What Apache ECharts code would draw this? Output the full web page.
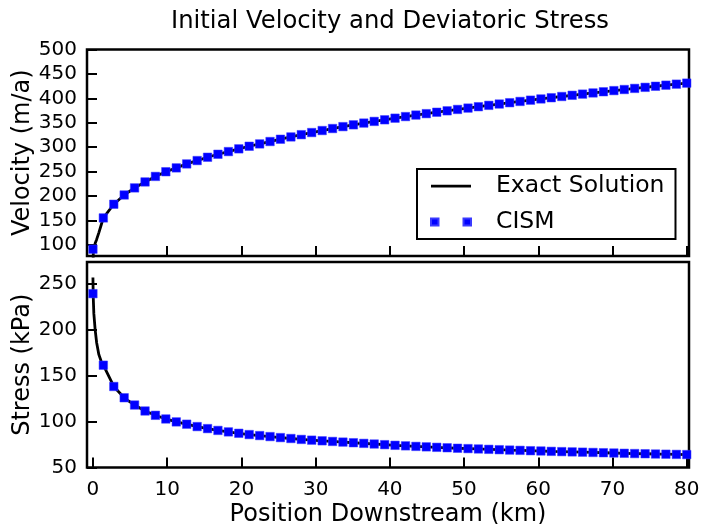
<!DOCTYPE html>
<html>
<head>
<meta charset="utf-8">
<script src="https://cdn.jsdelivr.net/npm/echarts@6/dist/echarts.min.js"></script>
<style>
  html, body { margin: 0; padding: 0; background: #fff; }
  #chart { width: 701px; height: 524px; }
</style>
</head>
<body>
<div id="chart"></div>
<script>
// CISM grid points (km downstream)
const positionKm = [0, 1.40, 2.81, 4.21, 5.61, 7.02, 8.42, 9.82, 11.23, 12.63,
    14.04, 15.44, 16.84, 18.25, 19.65, 21.05, 22.46, 23.86, 25.26, 26.67,
    28.07, 29.47, 30.88, 32.28, 33.68, 35.09, 36.49, 37.89, 39.30, 40.70,
    42.11, 43.51, 44.91, 46.32, 47.72, 49.12, 50.53, 51.93, 53.33, 54.74,
    56.14, 57.54, 58.95, 60.35, 61.75, 63.16, 64.56, 65.96, 67.37, 68.77,
    70.18, 71.58, 72.98, 74.39, 75.79, 77.19, 78.60, 80.00];
const cismVelocity = [91, 155, 183, 202, 216.5, 228.7, 240, 249.6, 257.5, 265.6,
    272.5, 279.3, 285.4, 290.9, 296.5, 301.8, 306.6, 311.5, 316.2, 320.9,
    325.5, 329.9, 334, 338.1, 342, 345.7, 349.3, 352.7, 356, 359.3,
    362.6, 365.7, 368.6, 371.5, 374.4, 377.2, 380, 382.8, 385.6, 388.3,
    391, 393.6, 396.2, 398.7, 401.2, 403.7, 406.2, 408.6, 411, 413.4,
    415.8, 418, 420.3, 422.5, 424.7, 426.9, 429, 431.1];
const cismStress = [239.5, 161.5, 138.3, 126.0, 118.1, 111.6, 106.9, 102.9, 99.7, 97.2,
    94.6, 92.4, 90.4, 88.8, 87.3, 85.9, 84.8, 83.7, 82.6, 81.6,
    80.6, 79.8, 79.1, 78.4, 77.7, 77.0, 76.3, 75.6, 74.9, 74.2,
    73.6, 73.0, 72.5, 72.0, 71.5, 71.0, 70.6, 70.2, 69.8, 69.4,
    69.0, 68.7, 68.3, 68.0, 67.6, 67.3, 67.0, 66.7, 66.4, 66.1,
    65.8, 65.5, 65.2, 65.0, 64.7, 64.5, 64.3, 64.1];

// exact solution near the inflow, where it bends sharply
const exactNearX = [0, 0.04, 0.12, 0.3, 0.5, 0.8, 1.1];
const exactNearVelocity = [45, 80, 93, 103, 111, 125, 140];
const exactNearStress = [257, 236, 218, 200, 186, 173, 166];

const xTicks = [0, 10, 20, 30, 40, 50, 60, 70, 80];
const velocityTicks = [100, 150, 200, 250, 300, 350, 400, 450, 500];
const stressTicks = [50, 100, 150, 200, 250];

const FONT = 'DejaVu Sans';

function pairs(xs, ys) {
    return xs.map((x, i) => [x, ys[i]]);
}

const exactX = exactNearX.concat(positionKm.slice(1));
const exactVelocity = exactNearVelocity.concat(cismVelocity.slice(1));
const exactStress = exactNearStress.concat(cismStress.slice(1));

const tickStyle = { show: true, inside: true, length: 10, lineStyle: { color: '#000', width: 2 } };

function makeXAxis(gridIndex, withLabels) {
    return {
        type: 'value',
        gridIndex: gridIndex,
        min: -0.8,
        max: 80.3,
        axisLine: { show: false, onZero: false },
        splitLine: { show: false },
        axisTick: Object.assign({ customValues: xTicks }, tickStyle),
        axisLabel: {
            show: withLabels,
            customValues: xTicks,
            margin: 12,
            color: '#000',
            fontFamily: FONT,
            fontSize: 20
        },
        name: withLabels ? 'Position Downstream (km)' : '',
        nameLocation: 'middle',
        nameGap: 35,
        nameMoveOverlap: false,
        nameTextStyle: { color: '#000', fontFamily: FONT, fontSize: 24 }
    };
}

function makeYAxis(gridIndex, name, min, max, ticks) {
    return {
        type: 'value',
        gridIndex: gridIndex,
        min: min,
        max: max,
        axisLine: { show: false, onZero: false },
        splitLine: { show: false },
        axisTick: Object.assign({ customValues: ticks }, tickStyle),
        axisLabel: {
            customValues: ticks,
            margin: 10,
            color: '#000',
            fontFamily: FONT,
            fontSize: 20
        },
        name: name,
        nameLocation: 'middle',
        nameGap: 52,
        nameMoveOverlap: false,
        nameTextStyle: { color: '#000', fontFamily: FONT, fontSize: 24 }
    };
}

const chart = echarts.init(document.getElementById('chart'));

chart.setOption({
    animation: false,
    backgroundColor: '#fff',
    title: {
        text: 'Initial Velocity and Deviatoric Stress',
        left: 166,
        top: 5,
        textStyle: { color: '#000', fontFamily: FONT, fontSize: 24.3, fontWeight: 'normal' }
    },
    legend: {
        left: 417,
        top: 169,
        orient: 'vertical',
        borderColor: '#000',
        borderWidth: 2,
        padding: [5, 11, 5, 13],
        itemGap: 12,
        itemWidth: 40,
        itemHeight: 7,
        textStyle: { color: '#000', fontFamily: FONT, fontSize: 23.5, lineHeight: 24, padding: [0, 0, 0, 20] },
        data: [
            { name: 'Exact Solution', icon: 'path://M0,2.2h40v2.8h-40z M0,0h0.01v0.01h-0.01z M0,7h0.01v-0.01h-0.01z', itemStyle: { color: '#000' } },
            { name: 'CISM', icon: 'path://M0,0h7.5v7h-7.5z M32.5,0h7.5v7h-7.5z' }
        ]
    },
    grid: [
        { left: 87, right: 12, top: 49.5, height: 206.5, outerBoundsMode: 'none', show: true, borderColor: '#000', borderWidth: 2.5 },
        { left: 87, right: 12, top: 262, bottom: 56.5, outerBoundsMode: 'none', show: true, borderColor: '#000', borderWidth: 2.5 }
    ],
    xAxis: [makeXAxis(0, false), makeXAxis(1, true)],
    yAxis: [
        makeYAxis(0, 'Velocity (m/a)', 77, 500, velocityTicks),
        makeYAxis(1, 'Stress (kPa)', 50, 274, stressTicks)
    ],
    series: [
        {
            name: 'Exact Solution',
            type: 'line',
            xAxisIndex: 0,
            yAxisIndex: 0,
            data: pairs(exactX, exactVelocity),
            symbol: 'none',
            clip: true,
            lineStyle: { color: '#000', width: 2.8 },
            itemStyle: { color: '#000' },
            z: 2
        },
        {
            name: 'Exact Solution',
            type: 'line',
            xAxisIndex: 1,
            yAxisIndex: 1,
            data: pairs(exactX, exactStress),
            symbol: 'none',
            clip: true,
            lineStyle: { color: '#000', width: 2.8 },
            itemStyle: { color: '#000' },
            z: 2
        },
        {
            name: 'CISM',
            type: 'scatter',
            xAxisIndex: 0,
            yAxisIndex: 0,
            data: pairs(positionKm, cismVelocity),
            symbol: 'rect',
            symbolSize: 8.5,
            itemStyle: { color: '#0000ff', borderColor: '#3a3aff', borderWidth: 0.5, opacity: 1 },
            z: 3
        },
        {
            name: 'CISM',
            type: 'scatter',
            xAxisIndex: 1,
            yAxisIndex: 1,
            data: pairs(positionKm, cismStress),
            symbol: 'rect',
            symbolSize: 8.5,
            itemStyle: { color: '#0000ff', borderColor: '#3a3aff', borderWidth: 0.5, opacity: 1 },
            z: 3
        }
    ]
});
</script>
</body>
</html>
